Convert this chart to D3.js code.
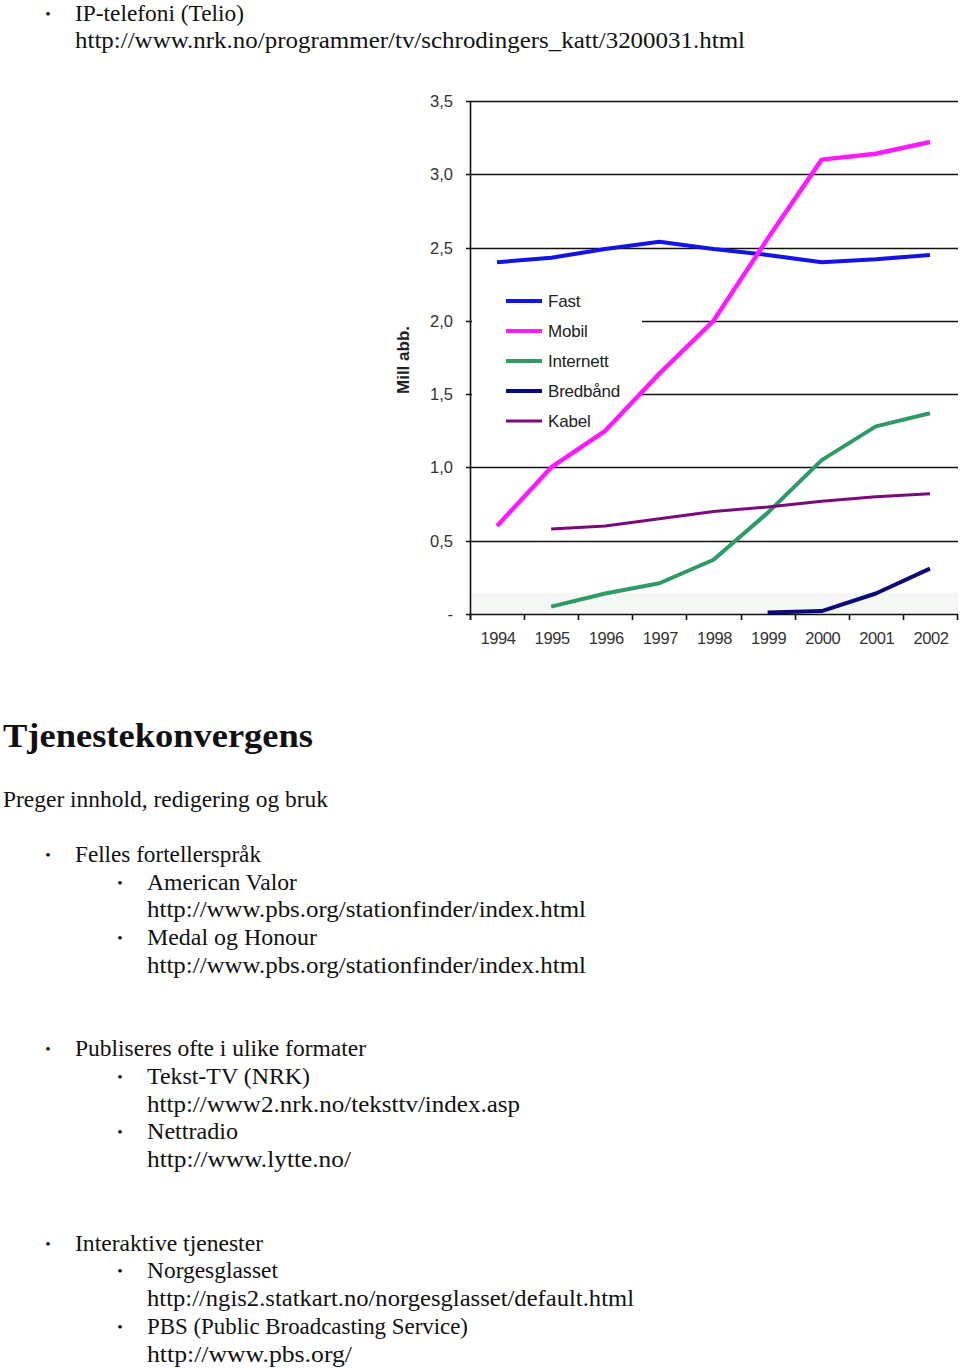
<!DOCTYPE html>
<html>
<head>
<meta charset="utf-8">
<script src="https://cdn.jsdelivr.net/npm/d3@7"></script>
<style>
  body { margin: 0; background: #fff; }
  svg { display: block; }
</style>
</head>
<body>
<script>
// abonnenter i millioner, lest av figuren
var years = ['1994','1995','1996','1997','1998','1999','2000','2001','2002'];
var fast      = [2.40, 2.43, 2.49, 2.54, 2.49, 2.45, 2.40, 2.42, 2.45];
var mobil     = [0.60, 1.00, 1.25, 1.64, 2.00, 2.56, 3.10, 3.14, 3.22];
var internett = [null, 0.05, 0.14, 0.21, 0.37, 0.69, 1.05, 1.28, 1.37];
var bredband  = [null, null, null, null, null, 0.01, 0.02, 0.14, 0.31];
var kabel     = [null, 0.58, 0.60, 0.65, 0.70, 0.73, 0.77, 0.80, 0.82];
var seriesNames = ['Fast','Mobil','Internett','Bredbånd','Kabel'];
var yTicks = [0, 0.5, 1.0, 1.5, 2.0, 2.5, 3.0, 3.5];

var colors = ['#1414e6', '#ff1aff', '#2e9a66', '#0a0a78', '#7a0a7a'];
var widths = [4, 4.5, 4, 4, 3];
var allSeries = [fast, mobil, internett, bredband, kabel];

var W = 960, H = 1368;
var svg = d3.select("body").append("svg").attr("width", W).attr("height", H);

// ---- chart ----
var x = d3.scaleBand().domain(years).range([470, 957]).padding(0);
var y = d3.scaleLinear().domain([0, 3.5]).range([614, 101]);
var gridRight = 958;
var sans = "Liberation Sans, Arial, sans-serif";

var chart = svg.append("g");

// faint band at bottom of plot
chart.append("rect")
  .attr("x", 471).attr("y", y(0.145)).attr("width", gridRight - 471).attr("height", y(0) - y(0.145))
  .attr("fill", "#f5f7f5");

// gridlines
chart.selectAll("line.grid").data(yTicks.filter(function(d){ return d > 0; })).enter()
  .append("line").attr("class", "grid")
  .attr("x1", 466).attr("x2", gridRight)
  .attr("y1", function(d){ return Math.round(y(d)) + 0.5; })
  .attr("y2", function(d){ return Math.round(y(d)) + 0.5; })
  .attr("stroke", "#111").attr("stroke-width", 1.6);

var fmt = d3.formatLocale({decimal: ",", thousands: " ", grouping: [3], currency: ["", ""]}).format(".1f");
chart.selectAll("text.ylab").data(yTicks).enter()
  .append("text").attr("class", "ylab")
  .attr("x", 453).attr("y", function(d){ return y(d) + 6; })
  .attr("text-anchor", "end")
  .attr("font-family", sans).attr("font-size", 16.5)
  .attr("fill", "#333")
  .text(function(d){ return d === 0 ? "-" : fmt(d); });

// y axis title
chart.append("text")
  .attr("transform", "translate(409,360) rotate(-90)")
  .attr("text-anchor", "middle")
  .attr("font-family", sans).attr("font-size", 17).attr("font-weight", "bold")
  .attr("fill", "#222")
  .text("Mill abb.");

// legend box (white, hides gridlines)
var legendTop = 301, legendStep = 30;
chart.append("rect").attr("x", 472).attr("y", 282).attr("width", 170).attr("height", 157).attr("fill", "#fff");

var lg = chart.selectAll("g.leg").data(seriesNames).enter().append("g").attr("class", "leg")
  .attr("transform", function(d, i){ return "translate(0," + (legendTop + i * legendStep) + ")"; });
lg.append("line").attr("x1", 506).attr("x2", 542).attr("y1", 0).attr("y2", 0)
  .attr("stroke", function(d, i){ return colors[i]; })
  .attr("stroke-width", function(d, i){ return i === 4 ? 3 : 4; });
lg.append("text").attr("x", 548).attr("y", 6)
  .attr("font-family", sans).attr("font-size", 17)
  .attr("fill", "#222").attr("letter-spacing", -0.2)
  .text(function(d){ return d; });

// axes lines
chart.append("line").attr("x1", 470.5).attr("x2", 470.5).attr("y1", y(3.5)).attr("y2", 620)
  .attr("stroke", "#111").attr("stroke-width", 1.6);
chart.append("line").attr("x1", 466).attr("x2", gridRight).attr("y1", 614.5).attr("y2", 614.5)
  .attr("stroke", "#111").attr("stroke-width", 1.6);

// x ticks at band edges
var edges = years.map(function(d){ return x(d); }).concat([x(years[years.length - 1]) + x.bandwidth()]);
chart.selectAll("line.xt").data(edges).enter().append("line").attr("class", "xt")
  .attr("x1", function(d){ return Math.round(d) + 0.5; }).attr("x2", function(d){ return Math.round(d) + 0.5; })
  .attr("y1", 614).attr("y2", 620).attr("stroke", "#111").attr("stroke-width", 1.6);

chart.selectAll("text.xlab").data(years).enter().append("text").attr("class", "xlab")
  .attr("x", function(d){ return x(d) + x.bandwidth() / 2 + 1; }).attr("y", 644)
  .attr("text-anchor", "middle")
  .attr("font-family", sans).attr("font-size", 16.5)
  .attr("fill", "#333").attr("letter-spacing", -0.4)
  .text(function(d){ return d; });

// the lines
var line = d3.line()
  .defined(function(d){ return d.v !== null; })
  .x(function(d){ return x(d.year) + x.bandwidth() / 2; })
  .y(function(d){ return y(d.v); });

allSeries.forEach(function(s, i){
  var pts = years.map(function(yr, j){ return {year: yr, v: s[j]}; });
  chart.append("path").attr("d", line(pts))
    .attr("fill", "none").attr("stroke", colors[i]).attr("stroke-width", widths[i])
    .attr("stroke-linejoin", "round").attr("stroke-linecap", "butt");
});

// ---- text above and below the chart ----
var serif = "Liberation Serif, Times New Roman, serif";
var bodySize = 22.2;

// w = width the line takes in the original (Garamond is narrower)
var lines = [
  {lvl: 1, b: true,  t: "IP-telefoni (Telio)", y: 21, w: 169},
  {lvl: 1, b: false, t: "http://www.nrk.no/programmer/tv/schrodingers_katt/3200031.html", y: 48, w: 670},
  {lvl: 0, b: false, t: "Preger innhold, redigering og bruk", y: 807, w: 325},
  {lvl: 1, b: true,  t: "Felles fortellerspråk", y: 862, w: 186},
  {lvl: 2, b: true,  t: "American Valor", y: 890, w: 150},
  {lvl: 2, b: false, t: "http://www.pbs.org/stationfinder/index.html", y: 917, w: 439},
  {lvl: 2, b: true,  t: "Medal og Honour", y: 945, w: 170},
  {lvl: 2, b: false, t: "http://www.pbs.org/stationfinder/index.html", y: 973, w: 439},
  {lvl: 1, b: true,  t: "Publiseres ofte i ulike formater", y: 1056, w: 291},
  {lvl: 2, b: true,  t: "Tekst-TV (NRK)", y: 1084, w: 163},
  {lvl: 2, b: false, t: "http://www2.nrk.no/teksttv/index.asp", y: 1112, w: 373},
  {lvl: 2, b: true,  t: "Nettradio", y: 1139, w: 91},
  {lvl: 2, b: false, t: "http://www.lytte.no/", y: 1167, w: 204},
  {lvl: 1, b: true,  t: "Interaktive tjenester", y: 1251, w: 188},
  {lvl: 2, b: true,  t: "Norgesglasset", y: 1278, w: 131},
  {lvl: 2, b: false, t: "http://ngis2.statkart.no/norgesglasset/default.html", y: 1306, w: 487},
  {lvl: 2, b: true,  t: "PBS (Public Broadcasting Service)", y: 1334, w: 321},
  {lvl: 2, b: false, t: "http://www.pbs.org/", y: 1362, w: 205}
];
var textX = [3, 75, 147], bulletX = [0, 48, 120];

var tg = svg.append("g").attr("font-family", serif).attr("fill", "#111");
lines.forEach(function(l){
  tg.append("text").attr("x", textX[l.lvl]).attr("y", l.y).attr("font-size", bodySize)
    .attr("textLength", l.w).attr("lengthAdjust", "spacingAndGlyphs")
    .text(l.t);
  if (l.b) {
    tg.append("text").attr("x", bulletX[l.lvl]).attr("y", l.y - 2).attr("text-anchor", "middle")
      .attr("font-size", bodySize * 0.7).text("•");
  }
});

tg.append("text").attr("x", 3).attr("y", 747).attr("font-size", 33).attr("font-weight", "bold")
  .attr("textLength", 310).attr("lengthAdjust", "spacingAndGlyphs")
  .text("Tjenestekonvergens");
</script>
</body>
</html>
